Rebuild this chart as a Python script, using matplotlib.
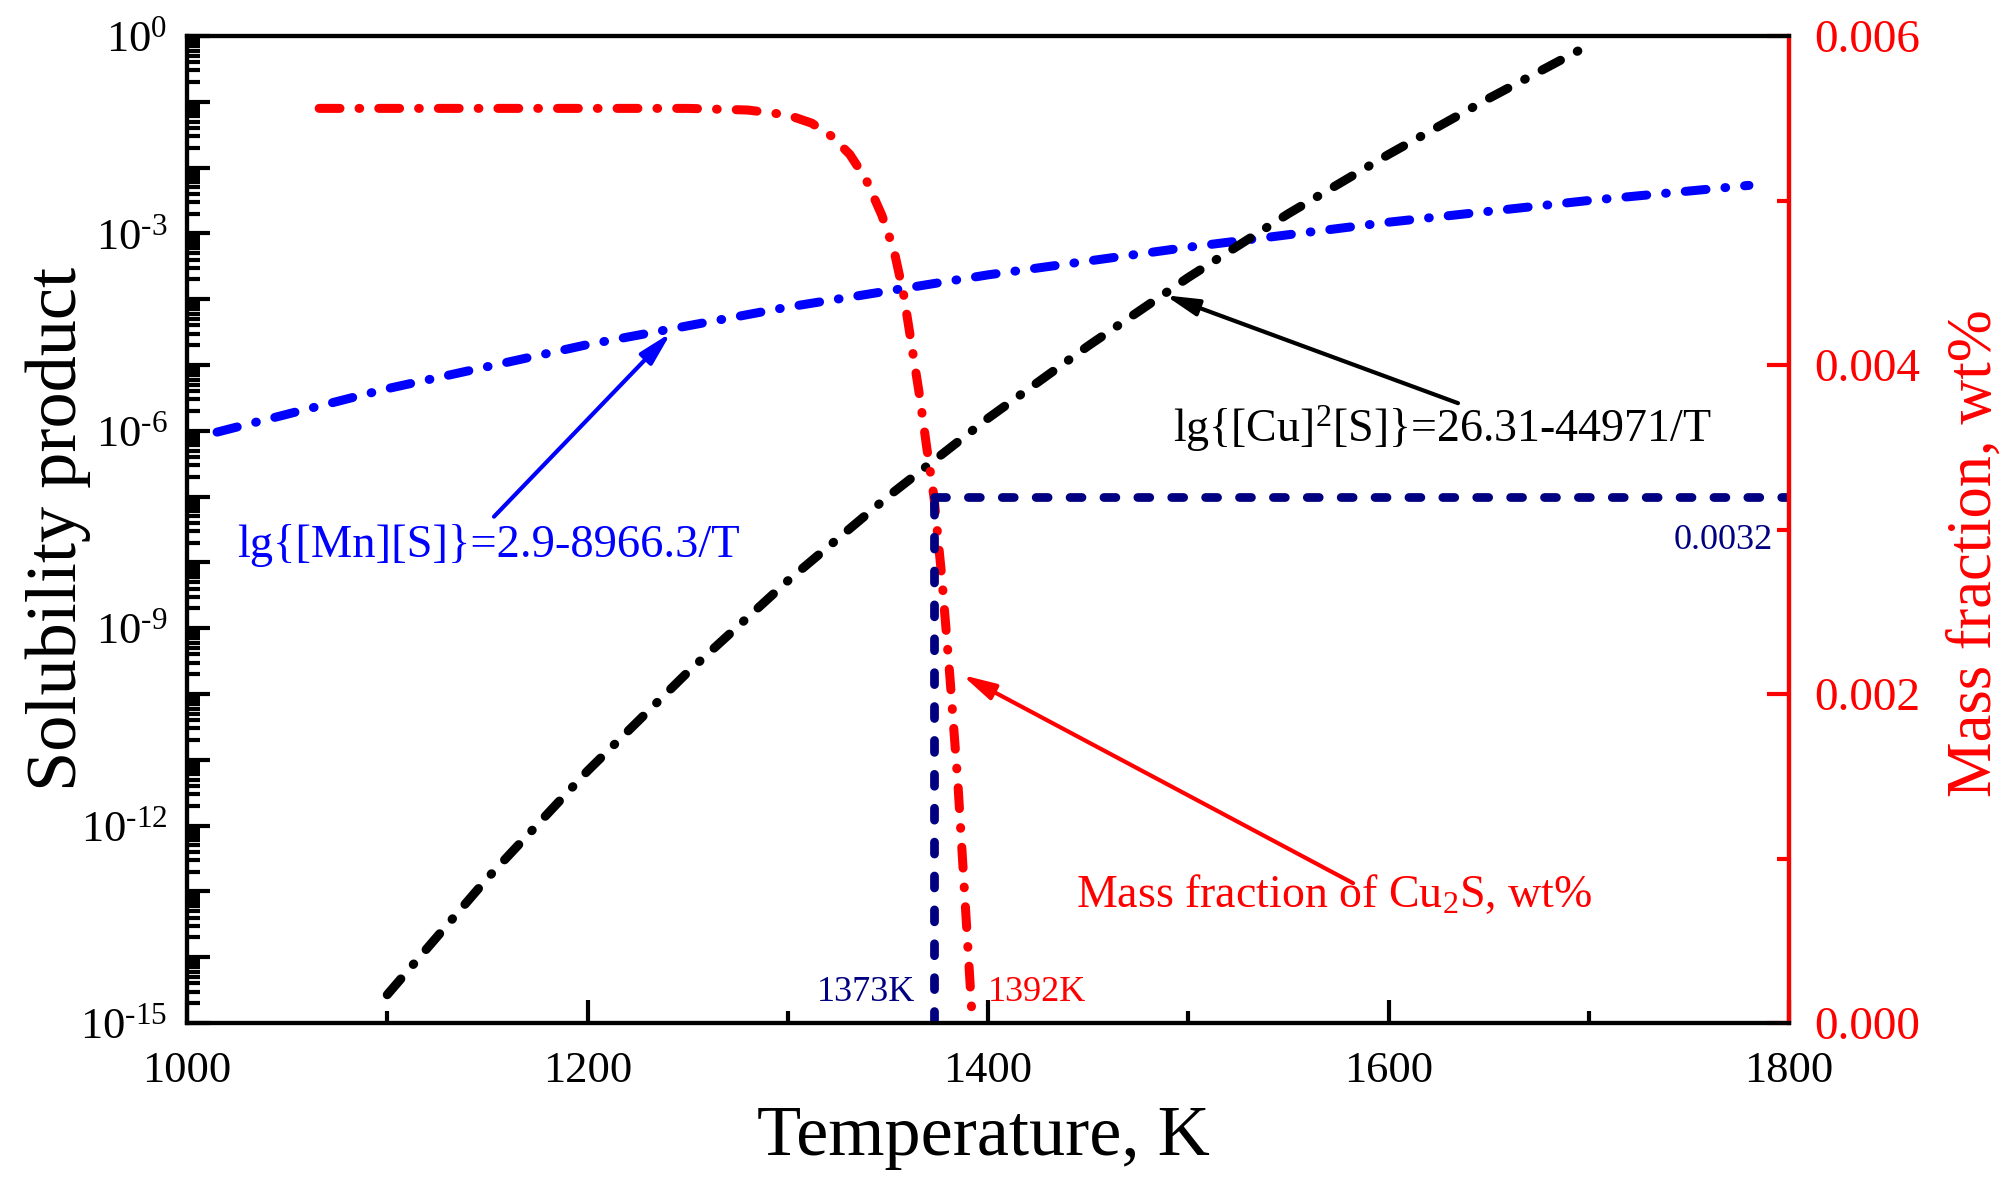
import numpy as np
import matplotlib
matplotlib.use("Agg")
import matplotlib.pyplot as plt
from matplotlib.ticker import FixedLocator, FuncFormatter, LogLocator, NullFormatter, MultipleLocator

plt.rcParams['font.family'] = ['Liberation Serif', 'DejaVu Serif']
plt.rcParams['mathtext.fontset'] = 'custom'
plt.rcParams['mathtext.rm'] = 'Liberation Serif'
plt.rcParams['mathtext.it'] = 'Liberation Serif:italic'
plt.rcParams['mathtext.bf'] = 'Liberation Serif:bold'
plt.rcParams['lines.scale_dashes'] = False

# ---------------- data ----------------
# MnS solubility product, lg value vs temperature
mns_T = [1015, 1100, 1200, 1300, 1400, 1500, 1600, 1700, 1780]
mns_lg = [-6.02, -5.36, -4.69, -4.12, -3.63, -3.21, -2.83, -2.50, -2.27]

# Cu2S solubility product, lg value vs temperature
cus_T = [1100, 1150, 1200, 1250, 1300, 1350, 1400, 1450, 1500, 1550, 1600, 1650, 1700]
cus_lg = [-14.57, -12.80, -11.17, -9.67, -8.28, -7.00, -5.81, -4.71, -3.67, -2.70, -1.80, -0.95, -0.14]

# Mass fraction of Cu2S, wt%
cu2s_T = [1066, 1150, 1250, 1280, 1300, 1312, 1322, 1331, 1339, 1347, 1353, 1358,
          1362, 1366, 1369.5, 1373, 1377, 1381, 1385, 1388.5, 1392]
cu2s_w = [0.00556, 0.00556, 0.00556, 0.00555, 0.00552, 0.00547, 0.00539, 0.00528,
          0.00513, 0.00491, 0.00470, 0.00442, 0.00411, 0.00380, 0.00349, 0.00320,
          0.00270, 0.00210, 0.00145, 0.00075, 0.00005]

# guide lines
T_start = 1373
T_end = 1392
w_start = 0.0032

x_ticks = [1000, 1200, 1400, 1600, 1800]
y2_ticks = [0.000, 0.002, 0.004, 0.006]

BLUE = '#0000FF'
RED = '#FF0000'
NAVY = '#000080'

fig = plt.figure(figsize=(20.12, 11.84), dpi=100)
ax = fig.add_axes([187/2012, 1-1023/1184, (1789-187)/2012, (1023-36)/1184])
ax2 = ax.twinx()

dashdot = (0, (15, 13.7, 0.5, 13.7))
lw = 6.5

ax.plot(mns_T, 10.0**np.array(mns_lg), color=BLUE, lw=lw, linestyle=dashdot,
        dash_capstyle='round', solid_capstyle='round')
ax.plot(cus_T, 10.0**np.array(cus_lg), color='black', lw=lw, linestyle=dashdot,
        dash_capstyle='round', solid_capstyle='round')
ax2.plot(cu2s_T, cu2s_w, color=RED, lw=lw, linestyle=dashdot,
         dash_capstyle='round', solid_capstyle='round')

navy_dash = (0, (8.6, 15.8))
ax2.plot([T_start, T_start], [0, w_start], color=NAVY, lw=6.3, linestyle=navy_dash,
         dash_capstyle='round')
ax2.plot([T_start, 1800], [w_start, w_start], color=NAVY, lw=6.3, linestyle=navy_dash,
         dash_capstyle='round')

# axes setup
ax.set_yscale('log')
ax.set_xlim(1000, 1800)
ax.set_ylim(1e-15, 1)
ax2.set_ylim(0, 0.006)

ax.xaxis.set_major_locator(FixedLocator(x_ticks))
ax.xaxis.set_minor_locator(MultipleLocator(100))
ax.yaxis.set_major_locator(FixedLocator([10.0**k for k in range(-15, 1)]))
ax.yaxis.set_minor_locator(LogLocator(base=10, subs=np.arange(2, 10), numticks=100))
ax.yaxis.set_minor_formatter(NullFormatter())

def yfmt(v, pos):
    k = int(round(np.log10(v)))
    if k % 3 == 0:
        if k < 0:
            return '$\\mathregular{10^{\u2010%d}}$' % (-k)
        return '$\\mathregular{10^{%d}}$' % k
    return ''
ax.yaxis.set_major_formatter(FuncFormatter(yfmt))

ax2.yaxis.set_major_locator(FixedLocator(y2_ticks))
ax2.yaxis.set_minor_locator(MultipleLocator(0.001))
ax2.yaxis.set_major_formatter(FuncFormatter(lambda v, p: '%.3f' % v))

for s in ax.spines.values():
    s.set_linewidth(3)
for s in ax2.spines.values():
    s.set_linewidth(3)
ax2.spines['right'].set_color(RED)

ax.tick_params(axis='both', which='both', direction='in', width=3, top=False, right=False)
ax.tick_params(axis='both', which='major', length=16.5, labelsize=32)
ax.tick_params(axis='both', which='minor', length=9)
ax.tick_params(axis='x', which='major', pad=20)
ax.tick_params(axis='y', which='major', pad=14)

ax2.tick_params(axis='y', which='both', direction='in', width=3, colors=RED)
ax2.tick_params(axis='y', which='major', length=16, labelsize=34, pad=18)
ax2.tick_params(axis='y', which='minor', length=9)

# axis labels
fig.text(983/2012, 1-1155/1184, 'Temperature, K', fontsize=52, ha='center', va='baseline')
fig.text(58/2012, 1-529/1184, 'Solubility product', fontsize=52, ha='center', va='center',
         rotation=90)
fig.text(1976/2012, 1-553/1184, 'Mass fraction, wt%', fontsize=45, ha='center', va='center',
         rotation=90, color=RED)

# annotations
arrow_kw = dict(arrowstyle='-|>,head_length=0.8,head_width=0.2', lw=3,
                mutation_scale=25, shrinkA=0, shrinkB=0)
ax.annotate('', xy=(1241.7, 10**-4.51), xytext=(1153.3, 10**-7.305),
            arrowprops=dict(color=BLUE, **arrow_kw))
ax.text(1025, 10**-7.92, 'lg{[Mn][S]}=2.9-8966.3/T', color=BLUE, fontsize=33.5,
        ha='left', va='baseline')

ax.annotate('', xy=(1488.4, 10**-3.94), xytext=(1634.7, 10**-5.58),
            arrowprops=dict(color='black', **arrow_kw))
ax.text(1492.4, 10**-6.166, r'lg{[Cu]$^{2}$[S]}=26.31-44971/T', color='black', fontsize=33,
        ha='left', va='baseline')

ax2.annotate('', xy=(1387, 0.002116), xytext=(1582.3, 0.00085),
             arrowprops=dict(color=RED, **arrow_kw))
ax2.text(1444, 0.000707, r'Mass fraction of Cu$_{2}$S, wt%', color=RED, fontsize=33,
         ha='left', va='baseline')

ax2.text(1363.5, 0.000134, '%dK' % T_start, color=NAVY, fontsize=26, ha='right', va='baseline')
ax2.text(1400, 0.000134, '%dK' % T_end, color=RED, fontsize=26, ha='left', va='baseline')
ax2.text(1792, 0.00288, '%.4f' % w_start, color=NAVY, fontsize=26, ha='right', va='baseline')

fig.savefig('out.png', dpi=100)
